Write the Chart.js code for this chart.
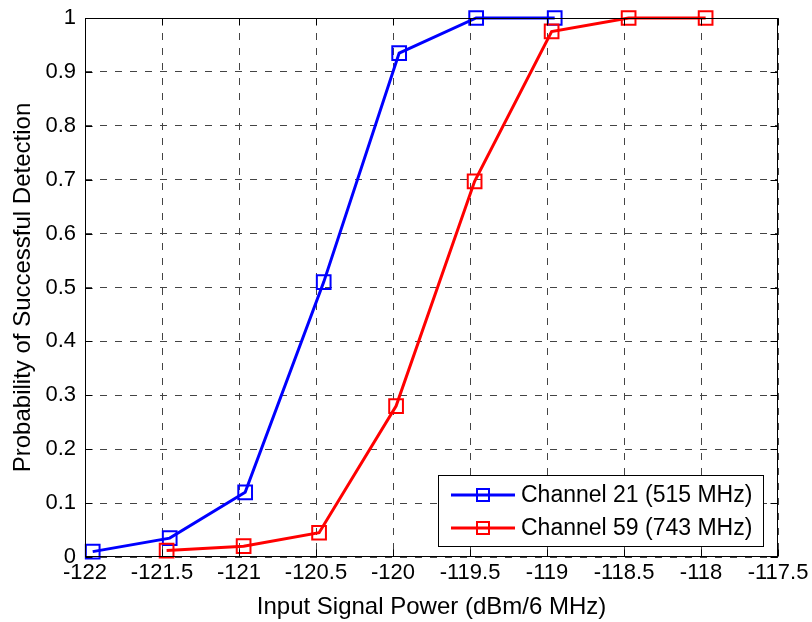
<!DOCTYPE html>
<html><head><meta charset="utf-8">
<script src="https://cdn.jsdelivr.net/npm/chart.js@4"></script>
<style>html,body{margin:0;padding:0;background:#fff}#wrap{width:812px;height:622px;position:relative}</style>
</head><body><div id="wrap"><canvas id="c" width="812" height="622"></canvas></div>
<script>
const seriesNames = ['Channel 21 (515 MHz)', 'Channel 59 (743 MHz)'];
const seriesColors = ['#0000ff', '#ff0000'];
const ch21X = [-121.95, -121.45, -120.96, -120.45, -119.96, -119.46, -118.95];
const ch21Y = [0.01, 0.035, 0.12, 0.51, 0.935, 1, 1];
const ch59X = [-121.47, -120.97, -120.48, -119.98, -119.47, -118.97, -118.47, -117.97];
const ch59Y = [0.012, 0.02, 0.045, 0.28, 0.697, 0.975, 1, 1];
const xTickLabels = ['-122', '-121.5', '-121', '-120.5', '-120', '-119.5', '-119', '-118.5', '-118', '-117.5'];
const yTickLabels = ['0', '0.1', '0.2', '0.3', '0.4', '0.5', '0.6', '0.7', '0.8', '0.9', '1'];
const xTitle = 'Input Signal Power (dBm/6 MHz)';
const yTitle = 'Probability of Successful Detection';

const FONT = '"Liberation Sans", Arial, Helvetica, sans-serif';
Chart.defaults.font.family = FONT;
Chart.defaults.color = '#000';

const toPts = (xs, ys) => xs.map((x, i) => ({x: x, y: ys[i]}));

const framePlugin = {
  id: 'frame',
  afterDatasetsDraw(chart) {
    const {ctx, chartArea: a, scales} = chart;
    ctx.save();
    ctx.strokeStyle = '#000';
    ctx.lineWidth = 1;
    const L = Math.round(a.left) + 0.5, R = Math.round(a.right) - 0.5;
    const T = Math.round(a.top) + 0.5, B = Math.round(a.bottom) - 0.5;
    ctx.beginPath();
    const tl = 7;
    scales.x.ticks.forEach(t => {
      const px = Math.round(scales.x.getPixelForValue(t.value)) + 0.5;
      ctx.moveTo(px, B); ctx.lineTo(px, B - tl);
      ctx.moveTo(px, T); ctx.lineTo(px, T + tl);
    });
    scales.y.ticks.forEach(t => {
      const py = Math.round(scales.y.getPixelForValue(t.value)) + 0.5;
      ctx.moveTo(L, py); ctx.lineTo(L + tl, py);
      ctx.moveTo(R, py); ctx.lineTo(R - tl, py);
    });
    ctx.stroke();
    ctx.strokeRect(L, T, R - L, B - T);
    ctx.restore();
  }
};

const legendPlugin = {
  id: 'insideLegend',
  afterDraw(chart) {
    const {ctx, chartArea: a} = chart;
    const w = 325, h = 71;
    const x0 = Math.round(a.right - 15 - w), y0 = Math.round(a.bottom - 11 - h);
    ctx.save();
    ctx.fillStyle = '#fff';
    ctx.fillRect(x0, y0, w, h);
    ctx.strokeStyle = '#000';
    ctx.lineWidth = 1;
    ctx.strokeRect(x0 + 0.5, y0 + 0.5, w, h);
    chart.data.datasets.forEach((ds, i) => {
      const cy = y0 + 20 + i * 33;
      ctx.strokeStyle = ds.borderColor;
      ctx.lineWidth = 3;
      ctx.beginPath();
      ctx.moveTo(x0 + 13, cy); ctx.lineTo(x0 + 77, cy);
      ctx.stroke();
      ctx.lineWidth = 2;
      ctx.strokeRect(x0 + 45 - 6, cy - 6, 12, 12);
      ctx.fillStyle = '#000';
      ctx.font = '23px ' + FONT;
      ctx.textBaseline = 'middle';
      ctx.textAlign = 'left';
      ctx.fillText(ds.label, x0 + 83, cy + 1);
    });
    ctx.restore();
  }
};

const mkDs = (label, color, pts, order) => ({
  label: label,
  data: pts,
  borderColor: color,
  backgroundColor: color,
  borderWidth: 3,
  pointStyle: 'rect',
  pointRadius: 9.7,
  pointBorderWidth: 2,
  pointBackgroundColor: 'rgba(0,0,0,0)',
  pointBorderColor: color,
  tension: 0,
  clip: false,
  order: order
});

new Chart(document.getElementById('c'), {
  type: 'line',
  data: {
    datasets: [
      mkDs(seriesNames[0], seriesColors[0], toPts(ch21X, ch21Y), 1),
      mkDs(seriesNames[1], seriesColors[1], toPts(ch59X, ch59Y), 0)
    ]
  },
  plugins: [framePlugin, legendPlugin],
  options: {
    responsive: false,
    animation: false,
    devicePixelRatio: 1,
    events: [],
    layout: {padding: {left: 0, right: 34, top: 18, bottom: 0}},
    plugins: {legend: {display: false}, tooltip: {enabled: false}},
    scales: {
      x: {
        type: 'linear',
        min: -122, max: -117.5,
        afterBuildTicks: s => { s.ticks = xTickLabels.map(t => ({value: parseFloat(t)})); },
        afterFit: s => { s.height = 65; s.paddingLeft = 0; s.paddingRight = 0; },
        ticks: {
          callback: (v, i) => xTickLabels[i],
          font: {size: 22}, color: '#000', padding: 3,
          maxRotation: 0, autoSkip: false
        },
        grid: {color: '#444', lineWidth: 1, drawTicks: false},
        border: {display: false, dash: [7, 8]},
        title: {display: true, text: xTitle, color: '#000', font: {size: 24}, padding: {top: 0, bottom: 0}}
      },
      y: {
        type: 'linear',
        min: 0, max: 1,
        afterBuildTicks: s => { s.ticks = yTickLabels.map(t => ({value: parseFloat(t)})); },
        afterFit: s => { s.width = 85; s.paddingTop = 0; s.paddingBottom = 0; },
        ticks: {
          callback: (v, i) => yTickLabels[i],
          font: {size: 22}, color: '#000', padding: 9, autoSkip: false
        },
        grid: {color: '#444', lineWidth: 1, drawTicks: false},
        border: {display: false, dash: [7, 8]},
        title: {display: true, text: yTitle, color: '#000', font: {size: 24}, padding: {top: 9, bottom: 0}}
      }
    }
  }
});
</script>
</body></html>
